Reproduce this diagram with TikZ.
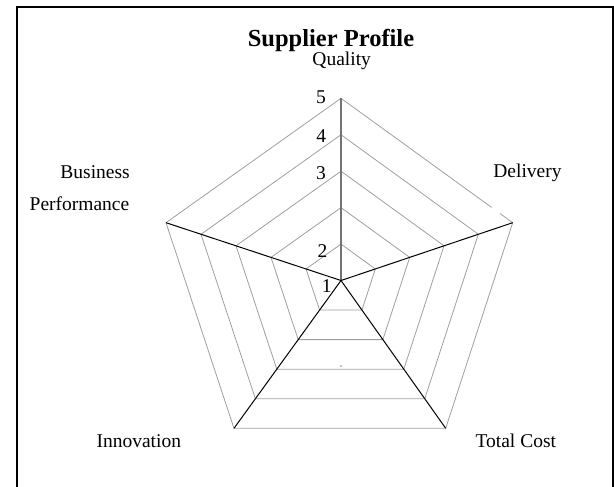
\documentclass[tikz,border=0pt]{standalone}
\usepackage{fontspec}
\setmainfont{Liberation Serif}
\usetikzlibrary{calc}
\begin{document}
\begin{tikzpicture}[x=1pt,y=-1pt,
  lbl/.style={inner sep=0pt,anchor=base,font=\fontsize{19.5}{20}\selectfont},
  titlestyle/.style={inner sep=0pt,anchor=base,font=\fontsize{24.5}{26}\selectfont\bfseries},
  gridline/.style={draw=gray!75,line width=0.8pt,line join=round},
  qspoke/.style={draw=black!55,line width=1.5pt},
  spoke/.style={draw=black,line width=1pt}]
\useasboundingbox (0,0) rectangle (614,487);
\clip (0,0) rectangle (614,487);
\draw[line width=2pt] (17,520) -- (17,7.3) -- (612.7,7.3) -- (612.7,520);
\coordinate (C) at (341,280.5);
\coordinate (Q) at (341,98.3);
\coordinate (D) at (512.7,222.7);
\coordinate (T) at (445.7,428.3);
\coordinate (I) at (234,428.3);
\coordinate (B) at (166,222.7);
\foreach \k in {0.2,0.4,0.6,0.8}
  \draw[gridline] ($(C)!\k!(Q)$) -- ($(C)!\k!(D)$) -- ($(C)!\k!(T)$) -- ($(C)!\k!(I)$) -- ($(C)!\k!(B)$) -- cycle;
\draw[gridline] ($(Q)!0.877!(D)$) -- (Q) -- (B) -- (I) -- (T) -- (D) -- ($(Q)!0.926!(D)$);
\draw[qspoke] (C) -- (Q);
\draw[spoke] (C) -- (D);
\draw[spoke] (C) -- (T);
\draw[spoke] (C) -- (I);
\draw[spoke] (C) -- (B);
\fill (341,366) circle (0.6);
\node[titlestyle] (title) at (331,46.7) {Supplier Profile};
\node[lbl] (lq) at (341.7,66) {Quality};
\node[lbl] (ld) at (527.5,177.5) {Delivery};
\node[lbl,anchor=base east] (lb1) at (130,178.3) {Business};
\node[lbl,anchor=base east] (lb2) at (129.5,210.7) {Performance};
\node[lbl] (li) at (138.8,447.7) {Innovation};
\node[lbl] (lt) at (515.8,447.7) {Total Cost};
\node[lbl] (n5) at (321,103.3) {5};
\node[lbl] (n4) at (321.3,142.7) {4};
\node[lbl] (n3) at (321,179) {3};
\node[lbl] (n2) at (322.5,257.7) {2};
\node[lbl] (n1) at (326.7,292.7) {1};
\end{tikzpicture}
\end{document}
